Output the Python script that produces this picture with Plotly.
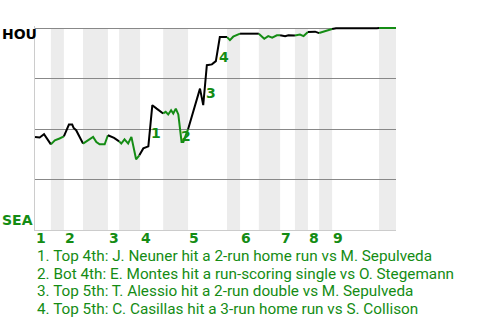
import plotly.graph_objects as go

# ---- data ----
# game progress (0-100) and HOU win probability (%)
prog = [0, 1.3, 2.5, 4.4,
        5.5, 6.8, 8.0,
        9.1, 9.4, 10.3, 10.7, 11.4, 13.3,
        14.7, 16.1, 17.0, 17.9, 19.3, 20.2,
        21.9, 23.3,
        23.9, 24.8, 25.8, 26.7, 28.0, 28.9,
        30.0, 31.4, 32.5, 33.7, 35.5,
        36.2, 36.9, 37.7, 38.3, 39.0, 39.7, 40.6, 41.1, 41.7, 42.4,
        42.9, 45.7, 46.6, 47.6, 49.0, 50.1, 51.2, 53.2,
        54.0, 54.9, 56.1, 56.8,
        62.0,
        63.5, 64.6, 65.7, 67.0, 67.9,
        69.3, 70.2, 71.6, 72.0,
        73.4, 74.4, 75.6,
        77.6, 78.7,
        79.9, 81.2, 82.3,
        83.4, 94.7, 95.3,
        100]
hou_wp = [46.1, 45.8, 47.4, 42.4,
          44.4, 45.3, 46.4,
          51.0, 52.2, 52.2, 50.5, 49.4, 42.8,
          44.4, 46.1, 43.6, 42.4, 42.4, 46.9,
          45.6, 43.9,
          42.8, 44.9, 42.8, 46.1, 35.0, 37.0,
          40.4, 41.4, 61.8, 60.1, 57.7,
          58.5, 57.2, 59.3, 57.7, 60.1, 57.2, 43.6, 43.6, 46.9, 49.9,
          52.9, 70.0, 61.8, 81.6, 82.0, 83.6, 95.5, 95.5,
          94.0, 95.7, 96.5, 97.2,
          97.2,
          94.7, 96.0, 95.2, 96.4, 96.4,
          95.9, 96.4, 96.3, 96.3,
          96.8, 96.0, 98.0,
          98.2, 97.5,
          98.2, 99.0, 99.5,
          99.9, 99.9, 100,
          100]
# half-inning boundaries (game progress)
half_bounds = [0, 4.4, 8.0, 13.3, 20.2, 23.3, 29.1, 35.5, 42.4, 53.2,
               56.8, 62.0, 67.9, 72.0, 75.6, 78.7, 82.3, 95.3, 100]
inning_labels = ["1", "2", "3", "4", "5", "6", "7", "8", "9"]
teams = ["HOU", "SEA"]
# index of the play (in prog/hou_wp) for each key event
event_idx = [29, 38, 45, 48]
event_labels = ["1", "2", "3", "4"]
event_texts = [
    "1. Top 4th: J. Neuner hit a 2-run home run vs M. Sepulveda",
    "2. Bot 4th: E. Montes hit a run-scoring single vs O. Stegemann",
    "3. Top 5th: T. Alessio hit a 2-run double vs M. Sepulveda",
    "4. Top 5th: C. Casillas hit a 3-run home run vs S. Collison",
]

GREEN = "#148c14"
BLACK = "#000000"

fig = go.Figure()

# line segments per half inning
n_half = len(half_bounds) - 1
for h in range(n_half):
    lo, hi = half_bounds[h], half_bounds[h + 1]
    idx = [i for i, x in enumerate(prog)
           if (lo < x <= hi) or (h == 0 and x == lo)]
    if not idx:
        continue
    if idx[0] > 0:
        idx = [idx[0] - 1] + idx
    fig.add_trace(go.Scatter(
        x=[prog[i] for i in idx], y=[hou_wp[i] for i in idx],
        mode="lines", line=dict(color=BLACK if h % 2 == 0 else GREEN, width=2),
        hoverinfo="skip", showlegend=False))

shapes = []
for h in range(1, n_half, 2):
    shapes.append(dict(type="rect", xref="x", yref="y",
                       x0=half_bounds[h], x1=half_bounds[h + 1], y0=0, y1=100,
                       fillcolor="#ececec", line=dict(width=0), layer="below"))

bold = dict(family="DejaVu Sans", size=14, weight="bold")
annotations = []
# inning labels
for k, lab in enumerate(inning_labels):
    annotations.append(dict(x=half_bounds[2 * k], y=0, xref="x", yref="paper",
                            text=lab, showarrow=False, xanchor="left",
                            yanchor="middle", yshift=-8, xshift=-1,
                            font=dict(bold, color=GREEN)))
# team labels
annotations.append(dict(x=0, y=100, xref="paper", yref="y", text=teams[0],
                        showarrow=False, xanchor="left", yanchor="middle",
                        xshift=-35, yshift=-6, font=dict(bold, color=BLACK)))
annotations.append(dict(x=0, y=0, xref="paper", yref="y", text=teams[1],
                        showarrow=False, xanchor="left", yanchor="middle",
                        xshift=-35, yshift=10, font=dict(bold, color=GREEN)))
# event labels on the chart
for i, lab in zip(event_idx, event_labels):
    annotations.append(dict(x=(prog[i - 1] + prog[i]) / 2,
                            y=(hou_wp[i - 1] + hou_wp[i]) / 2,
                            xref="x", yref="y", text=lab, showarrow=False,
                            xanchor="center", yanchor="middle",
                            xshift=6, yshift=-7.5, font=dict(bold, color=GREEN)))
# event descriptions
for k, t in enumerate(event_texts):
    annotations.append(dict(x=0, y=0, xref="paper", yref="paper", text=t,
                            showarrow=False, xanchor="left", yanchor="middle",
                            xshift=0, yshift=-26 - 17.5 * k,
                            font=dict(family="Roboto", size=15.3, color=GREEN)))

fig.update_layout(
    width=480, height=320,
    margin=dict(l=35, r=84, t=26, b=90),
    paper_bgcolor="white", plot_bgcolor="white",
    xaxis=dict(range=[0, 100], showgrid=False, zeroline=False,
               showticklabels=False, ticks="", showline=True,
               linecolor="#cccccc", linewidth=1, fixedrange=True),
    yaxis=dict(range=[0, 101], tickvals=[25, 50, 75, 100], showgrid=True,
               gridcolor="#888888", gridwidth=1, zeroline=False,
               showticklabels=False, ticks="", showline=True,
               linecolor="#cccccc", linewidth=1, fixedrange=True),
    shapes=shapes, annotations=annotations, showlegend=False,
)

fig.write_html("out.html", config={"displayModeBar": False})
